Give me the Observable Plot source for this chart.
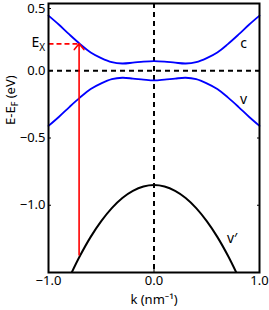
<!DOCTYPE html>
<html>
<head>
<meta charset="utf-8">
<script src="https://cdn.jsdelivr.net/npm/d3@7"></script>
<script src="https://cdn.jsdelivr.net/npm/@observablehq/plot@0.6"></script>
<style>
  body { margin: 0; background: #fff; }
  #chart svg { display: block; }
</style>
</head>
<body>
<div id="chart"></div>
<script>
// Band wavevectors and energies (eV)
const kBand = [-1, -0.9, -0.8, -0.7, -0.6, -0.5, -0.4, -0.3, -0.2, -0.1, 0, 0.1, 0.2, 0.3, 0.4, 0.5, 0.6, 0.7, 0.8, 0.9, 1];
const cBand = [0.41, 0.342, 0.268, 0.198, 0.136, 0.094, 0.064, 0.054, 0.060, 0.068, 0.072, 0.068, 0.060, 0.054, 0.064, 0.094, 0.136, 0.198, 0.268, 0.342, 0.41];
const vBand = [-0.41, -0.342, -0.268, -0.198, -0.136, -0.094, -0.063, -0.052, -0.058, -0.066, -0.072, -0.066, -0.058, -0.052, -0.063, -0.094, -0.136, -0.198, -0.268, -0.342, -0.41];
const kVp = [-0.78, -0.7, -0.6, -0.5, -0.4, -0.3, -0.2, -0.1, 0, 0.1, 0.2, 0.3, 0.4, 0.5, 0.6, 0.7, 0.78];
const vpBand = [-1.5, -1.374, -1.235, -1.118, -1.021, -0.946, -0.893, -0.861, -0.85, -0.861, -0.893, -0.946, -1.021, -1.118, -1.235, -1.374, -1.5];
// Exciton transition
const kX = -0.71;
const eX = 0.2;
const eStart = -1.37;
// Ticks
const yTicksTop = [0.5];
const yTicks = [0.0, -0.5, -1.0];
const xTicks = [-1, 0, 1];
const bandLabels = [
  {k: 0.85, e: 0.2, text: "c"},
  {k: 0.85, e: -0.215, text: "v"},
  {k: 0.74, e: -1.25, text: "v\u2032"}
];

const c = kBand.map((k, i) => ({k, e: cBand[i]}));
const v = kBand.map((k, i) => ({k, e: vBand[i]}));
const vp = kVp.map((k, i) => ({k, e: vpBand[i]}));

const font = "'Noto Sans', 'Open Sans', sans-serif";

const chart = Plot.plot({
  width: 269,
  height: 310,
  marginLeft: 48,
  marginRight: 10,
  marginTop: 3,
  marginBottom: 38,
  style: {fontFamily: font, fontSize: "13px", color: "black", background: "#fff"},
  x: {domain: [-1, 1]},
  y: {domain: [-1.5, 0.5]},
  marks: [
    Plot.ruleY([0], {stroke: "black", strokeWidth: 2, strokeDasharray: "5,4"}),
    Plot.ruleX([0], {stroke: "black", strokeWidth: 2, strokeDasharray: "5,4"}),
    Plot.line(c, {x: "k", y: "e", stroke: "#0000ff", strokeWidth: 1.8, curve: "catmull-rom"}),
    Plot.line(v, {x: "k", y: "e", stroke: "#0000ff", strokeWidth: 1.8, curve: "catmull-rom"}),
    Plot.line(vp, {x: "k", y: "e", stroke: "black", strokeWidth: 2, curve: "catmull-rom", clip: true}),
    Plot.link([{x1: -1, x2: kX, y: eX}], {x1: "x1", x2: "x2", y1: "y", y2: "y", stroke: "#ff0000", strokeWidth: 1.8, strokeDasharray: "5,3"}),
    Plot.arrow([{x: kX, y1: eStart, y2: eX}], {x1: "x", x2: "x", y1: "y1", y2: "y2", stroke: "#ff0000", strokeWidth: 1.6, headLength: 7, headAngle: 80}),
    Plot.text(bandLabels, {x: "k", y: "e", text: "text", fontSize: 14, fill: "black"}),
    Plot.text([{y: eX, t: "EX"}], {frameAnchor: "left", y: "y", text: "t", dx: -17, dy: -1, fontSize: 14, fill: "black", className: "ex-label"}),
    Plot.axisY({ticks: yTicksTop, tickFormat: d3.format(".1f"), tickSize: -3, tickPadding: 6, dy: 5, fontSize: 13, label: null}),
    Plot.axisY({ticks: yTicks, tickFormat: d3.format(".1f"), tickSize: -3, tickPadding: 6, fontSize: 13, label: null}),
    Plot.axisY({anchor: "right", ticks: yTicks, tickSize: -3, tickFormat: () => "", label: null}),
    Plot.axisX({ticks: xTicks, tickFormat: d3.format(".1f"), tickSize: -3, tickPadding: 6, fontSize: 13, label: null}),
    Plot.text(["E-EF (eV)"], {frameAnchor: "left", dx: -38, dy: -13, rotate: -90, fontSize: 13, fill: "black", className: "ylab"}),
    Plot.text(["k (nm\u207B\u00B9)"], {frameAnchor: "bottom", dy: 31, fontSize: 13, fill: "black"}),
    Plot.frame({stroke: "black", strokeWidth: 2})
  ]
});

document.getElementById("chart").appendChild(chart);

// Subscripts
chart.querySelectorAll(".ylab text").forEach(t => {
  t.innerHTML = 'E-E<tspan dy="3" font-size="9">F</tspan><tspan dy="-3"> (eV)</tspan>';
});
chart.querySelectorAll(".ex-label text").forEach(t => {
  t.innerHTML = 'E<tspan dy="4" font-size="10">X</tspan>';
});
</script>
</body>
</html>
